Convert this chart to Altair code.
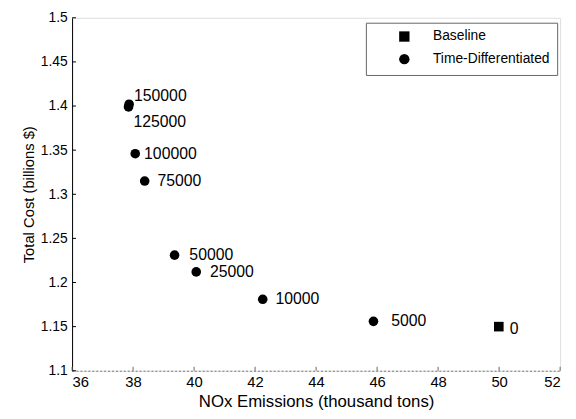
import altair as alt
import pandas as pd

# ---- data ----
labels = ["150000", "125000", "100000", "75000", "50000", "25000", "10000", "5000", "0"]
emissions = [37.87, 37.85, 38.07, 38.38, 39.36, 40.07, 42.25, 45.88, 49.99]
cost = [1.402, 1.399, 1.346, 1.315, 1.231, 1.212, 1.181, 1.156, 1.150]
series = ["Time-Differentiated"] * 8 + ["Baseline"]

x_ticks = [36, 38, 40, 42, 44, 46, 48, 50, 52]
y_ticks = [1.1, 1.15, 1.2, 1.25, 1.3, 1.35, 1.4, 1.45, 1.5]

# label offsets (styling only)
label_offsets = {
    "150000": (5, -8), "125000": (5, 15), "100000": (9, 0), "75000": (13, 0),
    "50000": (15, 0), "25000": (14, 0), "10000": (13, 0), "5000": (18, 0), "0": (11, 2),
}

df = pd.DataFrame({"label": labels, "nox": emissions, "cost": cost, "series": series})
xt = pd.DataFrame({"v": x_ticks})
yt = pd.DataFrame({"v": y_ticks})

FONT = "Liberation Sans"
W, H = 495, 358

xscale = alt.Scale(domain=[36, 52], nice=False, zero=False)
yscale = alt.Scale(domain=[1.1, 1.5], nice=False, zero=False)

points = alt.Chart(df).mark_point(filled=True, opacity=1, color="black", size=95).encode(
    x=alt.X("nox:Q", scale=xscale,
            axis=alt.Axis(values=x_ticks, title="NOx Emissions (thousand tons)", grid=False,
                          ticks=False, labelPadding=4, labelFontSize=15, titleFontSize=17,
                          titlePadding=4, domainColor="#777", domainDash=[2, 2],
                          labelColor="black", titleColor="black", titleFontWeight="normal")),
    y=alt.Y("cost:Q", scale=yscale,
            axis=alt.Axis(values=y_ticks, title="Total Cost (billions $)", grid=False,
                          ticks=False, labelPadding=5, labelFontSize=14, titleFontSize=15,
                          titlePadding=4, domainColor="black", labelColor="black",
                          titleColor="black", titleFontWeight="normal", format="~g")),
    shape=alt.Shape("series:N",
                    scale=alt.Scale(domain=["Baseline", "Time-Differentiated"],
                                    range=["square", "circle"]),
                    legend=alt.Legend(title=None, orient="none", legendX=298, legendY=5,
                                      padding=7, strokeColor="#666", fillColor="white",
                                      symbolSize=110, symbolFillColor="black",
                                      symbolStrokeColor="black", symbolOffset=25,
                                      labelOffset=22, labelFontSize=14, labelFont=FONT,
                                      labelColor="black", rowPadding=5)),
)

text_layers = []
for lab in labels:
    dx, dy = label_offsets[lab]
    text_layers.append(
        alt.Chart(df).transform_filter(alt.datum.label == lab)
        .mark_text(align="left", baseline="middle", dx=dx, dy=dy, fontSize=16, font=FONT, color="black")
        .encode(x=alt.X("nox:Q", scale=xscale), y=alt.Y("cost:Q", scale=yscale), text="label:N")
    )

yticks = alt.Chart(yt).mark_rule(color="black", strokeWidth=1).encode(
    y=alt.Y("v:Q", scale=yscale), x=alt.value(0), x2=alt.value(4))
xticks = alt.Chart(xt).mark_rule(color="#666", strokeWidth=1).encode(
    x=alt.X("v:Q", scale=xscale), y=alt.value(H), y2=alt.value(H - 4))

chart = alt.layer(yticks, xticks, points, *text_layers).properties(
    width=W, height=H,
    autosize=alt.AutoSizeParams(type="none"),
    padding={"left": 65, "top": 7, "right": 8, "bottom": 46},
).configure_view(stroke=None).configure(font=FONT, background="white")

chart.save("out.html", embed_options={"renderer": "svg", "actions": False})
